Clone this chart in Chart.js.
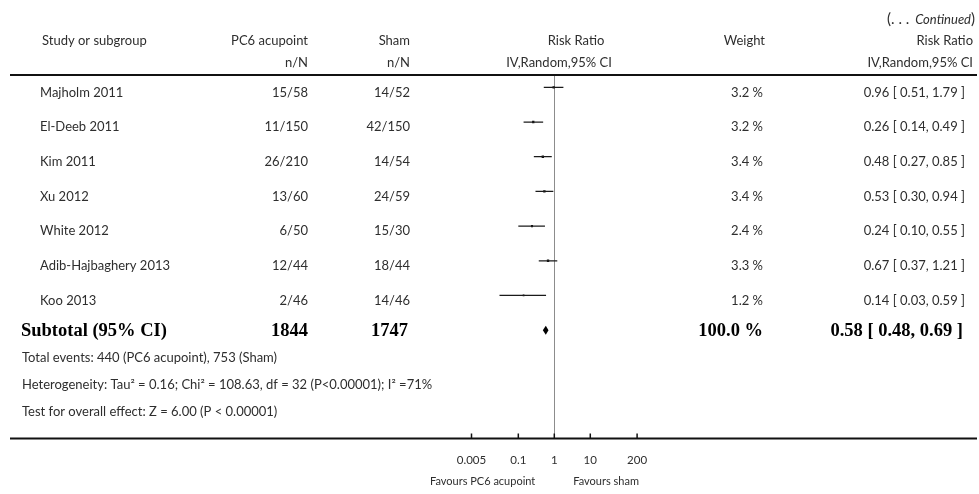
<!DOCTYPE html>
<html>
<head>
<meta charset="utf-8">
<script src="https://cdn.jsdelivr.net/npm/chart.js@4.4.1/dist/chart.umd.min.js"></script>
<style>
  html, body { margin: 0; background: #fff; }
  canvas { display: block; }
</style>
</head>
<body>
<canvas id="forestChart" width="979" height="494"></canvas>
<script>
var studies = ['Majholm 2011', 'El-Deeb 2011', 'Kim 2011', 'Xu 2012', 'White 2012', 'Adib-Hajbaghery 2013', 'Koo 2013'];
var pc6Events = ['15/58', '11/150', '26/210', '13/60', '6/50', '12/44', '2/46'];
var shamEvents = ['14/52', '42/150', '14/54', '24/59', '15/30', '18/44', '14/46'];
var weights = [3.2, 3.2, 3.4, 3.4, 2.4, 3.3, 1.2];
var riskRatio = [0.96, 0.26, 0.48, 0.53, 0.24, 0.67, 0.14];
var ciLow = [0.51, 0.14, 0.27, 0.30, 0.10, 0.37, 0.03];
var ciHigh = [1.79, 0.49, 0.85, 0.94, 0.55, 1.21, 0.59];

// pooled result
var subtotalN = [1844, 1747];
var subtotalWeight = 100.0;
var subtotalRR = [0.58, 0.48, 0.69];

var footnotes = [
  'Total events: 440 (PC6 acupoint), 753 (Sham)',
  'Heterogeneity: Tau\u00b2 = 0.16; Chi\u00b2 = 108.63, df = 32 (P<0.00001); I\u00b2 =71%',
  'Test for overall effect: Z = 6.00 (P < 0.00001)'
];
var tickValues = [0.005, 0.1, 1, 10, 200];

var SANS = 'Lato, "Open Sans", sans-serif';
var SERIF = '"Liberation Serif", "DejaVu Serif", serif';
var INK = '#2e2e2e';

function fmtCI(rr, lo, hi) {
  return rr.toFixed(2) + ' [ ' + lo.toFixed(2) + ', ' + hi.toFixed(2) + ' ]';
}

// one short horizontal line per study for its confidence interval
var whiskers = studies.map(function (name, i) {
  return {
    label: name,
    data: [{ x: ciLow[i], y: i }, { x: ciHigh[i], y: i }],
    showLine: true,
    borderColor: '#1a1a1a',
    borderWidth: 1.3,
    pointRadius: 0
  };
});

var estimates = {
  label: 'Risk Ratio',
  data: riskRatio.map(function (v, i) { return { x: v, y: i }; }),
  pointStyle: 'rect',
  pointRadius: weights.map(function (w) { return 1 + w * 0.2; }),
  backgroundColor: '#111',
  borderWidth: 0
};

function drawText(ctx, str, x, y, align, font, color) {
  ctx.font = font;
  ctx.fillStyle = color || INK;
  ctx.textAlign = align;
  ctx.textBaseline = 'middle';
  ctx.fillText(str, x, y);
}

var forestTable = {
  id: 'forestTable',
  beforeDatasetsDraw: function (chart) {
    var ctx = chart.ctx, area = chart.chartArea;
    var x1 = Math.round(chart.scales.x.getPixelForValue(1)) + 0.5;
    ctx.save();
    ctx.strokeStyle = '#8c8c8c';
    ctx.lineWidth = 1;
    ctx.beginPath();
    ctx.moveTo(x1, area.top);
    ctx.lineTo(x1, area.bottom);
    ctx.stroke();
    ctx.restore();
  },
  afterDraw: function (chart) {
    var ctx = chart.ctx, area = chart.chartArea;
    var xs = chart.scales.x, ys = chart.scales.y;
    var f = '13px ' + SANS;
    var bold = 'bold 18.5px ' + SERIF;
    ctx.save();

    // header rule and axis line
    ctx.strokeStyle = '#111';
    ctx.lineWidth = 2;
    ctx.beginPath();
    ctx.moveTo(10, area.top); ctx.lineTo(977, area.top);
    ctx.moveTo(10, area.bottom); ctx.lineTo(977, area.bottom);
    ctx.stroke();

    // tick marks sit above the axis line
    ctx.lineWidth = 1.5;
    ctx.beginPath();
    xs.ticks.forEach(function (t) {
      var px = xs.getPixelForValue(t.value);
      ctx.moveTo(px, area.bottom - 5);
      ctx.lineTo(px, area.bottom);
    });
    ctx.stroke();

    // "(. . . Continued)"
    ctx.font = '15px ' + SANS;
    var rp = ctx.measureText(')').width;
    ctx.font = 'italic 13px ' + SANS;
    var cw = ctx.measureText('Continued').width;
    drawText(ctx, ')', 975, 19, 'right', '15px ' + SANS);
    drawText(ctx, 'Continued', 975 - rp, 20, 'right', 'italic 13px ' + SANS);
    drawText(ctx, '(. . . ', 975 - rp - cw - 2, 19, 'right', '15px ' + SANS);

    // column headers
    drawText(ctx, 'Study or subgroup', 42, 41, 'left', f);
    drawText(ctx, 'PC6 acupoint', 308, 41, 'right', f);
    drawText(ctx, 'n/N', 308, 63, 'right', f);
    drawText(ctx, 'Sham', 410, 41, 'right', f);
    drawText(ctx, 'n/N', 410, 63, 'right', f);
    drawText(ctx, 'Risk Ratio', 576, 41, 'center', f);
    drawText(ctx, 'IV,Random,95% CI', 559, 63, 'center', f);
    drawText(ctx, 'Weight', 765, 41, 'right', f);
    drawText(ctx, 'Risk Ratio', 973, 41, 'right', f);
    drawText(ctx, 'IV,Random,95% CI', 973, 63, 'right', f);

    // study rows
    studies.forEach(function (name, i) {
      var y = ys.getPixelForValue(i) + 5;
      drawText(ctx, name, 40, y, 'left', f);
      drawText(ctx, pc6Events[i], 308, y, 'right', f);
      drawText(ctx, shamEvents[i], 410, y, 'right', f);
      drawText(ctx, weights[i].toFixed(1) + ' %', 763, y, 'right', f);
      drawText(ctx, fmtCI(riskRatio[i], ciLow[i], ciHigh[i]), 965, y, 'right', f);
    });

    // pooled diamond
    var row = studies.length;
    var yd = ys.getPixelForValue(row);
    var xl = xs.getPixelForValue(subtotalRR[1]);
    var xm = xs.getPixelForValue(subtotalRR[0]);
    var xr = xs.getPixelForValue(subtotalRR[2]);
    ctx.fillStyle = '#000';
    ctx.beginPath();
    ctx.moveTo(xl, yd);
    ctx.lineTo(xm, yd - 4.5);
    ctx.lineTo(xr, yd);
    ctx.lineTo(xm, yd + 4.5);
    ctx.closePath();
    ctx.fill();

    var ys2 = yd + 1;
    drawText(ctx, 'Subtotal (95% CI)', 21, ys2, 'left', bold, '#000');
    drawText(ctx, String(subtotalN[0]), 308, ys2, 'right', bold, '#000');
    drawText(ctx, String(subtotalN[1]), 408, ys2, 'right', bold, '#000');
    drawText(ctx, subtotalWeight.toFixed(1) + ' %', 763, ys2, 'right', bold, '#000');
    drawText(ctx, fmtCI(subtotalRR[0], subtotalRR[1], subtotalRR[2]), 963, ys2, 'right', bold, '#000');

    footnotes.forEach(function (line, k) {
      drawText(ctx, line, 22, yd + 28 + k * 27, 'left', f);
    });

    // favours labels under the scale
    var x1 = xs.getPixelForValue(1);
    drawText(ctx, 'Favours PC6 acupoint', x1 - 19, 481, 'right', '11px ' + SANS);
    drawText(ctx, 'Favours sham', x1 + 19, 481, 'left', '11px ' + SANS);

    ctx.restore();
  }
};

var ctx = document.getElementById('forestChart').getContext('2d');
var forestChart = new Chart(ctx, {
  type: 'scatter',
  data: { datasets: whiskers.concat([estimates]) },
  options: {
    responsive: false,
    animation: false,
    events: [],
    layout: { padding: { left: 471.5, right: 341.9, top: 75, bottom: 11.8 } },
    plugins: { legend: { display: false }, tooltip: { enabled: false } },
    scales: {
      x: {
        type: 'logarithmic',
        min: 0.005,
        max: 200,
        bounds: 'data',
        afterBuildTicks: function (scale) {
          scale.ticks = tickValues.map(function (v) { return { value: v }; });
        },
        ticks: {
          autoSkip: false,
          maxRotation: 0,
          padding: 15,
          color: INK,
          font: { family: SANS, size: 11.5 },
          callback: function (value) { return String(value); }
        },
        grid: { display: false, drawTicks: false },
        border: { display: false }
      },
      y: {
        type: 'linear',
        display: false,
        reverse: true,
        min: -0.356,
        max: 10.121
      }
    }
  },
  plugins: [forestTable]
});
</script>
</body>
</html>
